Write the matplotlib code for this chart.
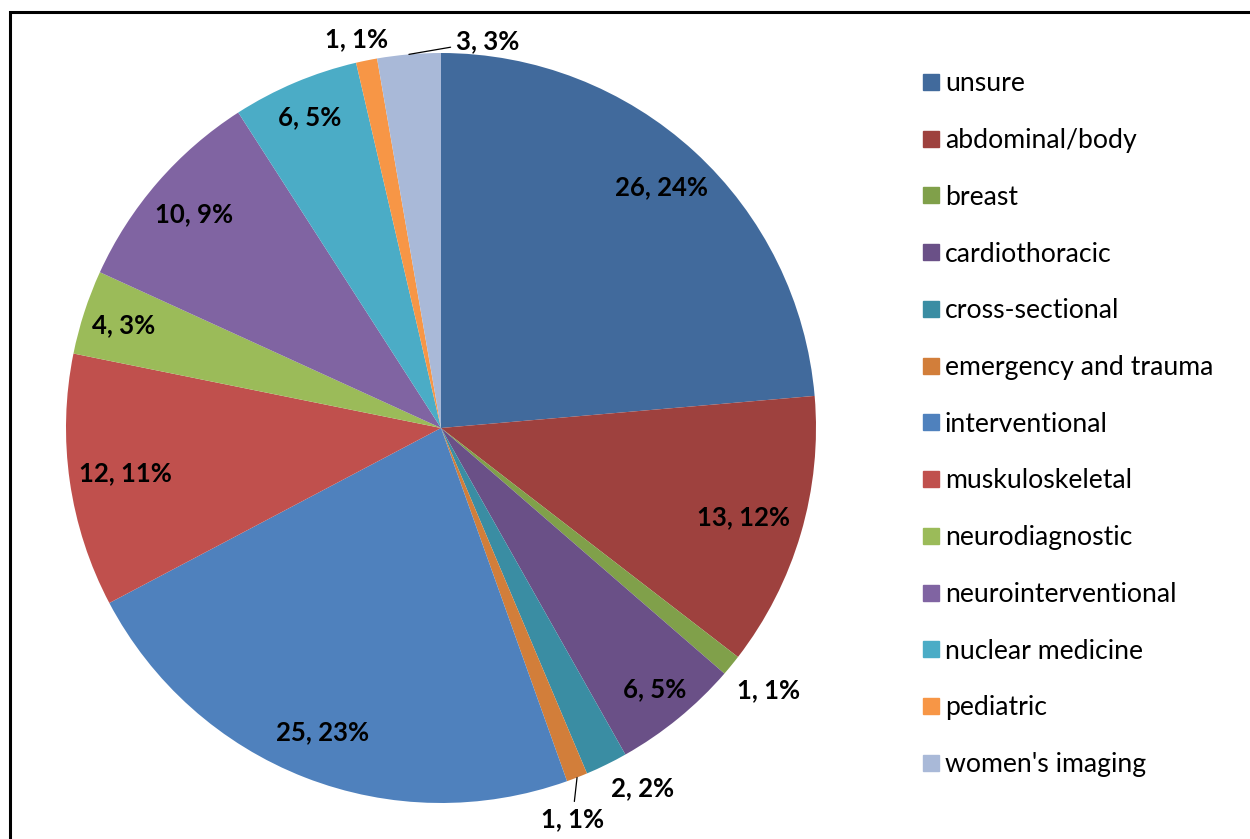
import numpy as np
import matplotlib
matplotlib.use("Agg")
import matplotlib.pyplot as plt
from matplotlib.lines import Line2D
from matplotlib.patches import Rectangle

plt.rcParams["font.family"] = ["Lato", "DejaVu Sans"]

categories = [
    "unsure", "abdominal/body", "breast", "cardiothoracic", "cross-sectional",
    "emergency and trauma", "interventional", "muskuloskeletal",
    "neurodiagnostic", "neurointerventional", "nuclear medicine",
    "pediatric", "women's imaging",
]
counts = [26, 13, 1, 6, 2, 1, 25, 12, 4, 10, 6, 1, 3]
pct_labels = ["24%", "12%", "1%", "5%", "2%", "1%", "23%", "11%",
              "3%", "9%", "5%", "1%", "3%"]

colours = [
    "#416A9C", "#9E413E", "#80A04A", "#6A5087", "#3A8DA3", "#D27E3A",
    "#4F81BD", "#C0504D", "#9BBB59", "#8064A2", "#4BACC6", "#F79646",
    "#A9B9D8",
]

# label placement: radial distance (x radius) and angular nudge (deg, clockwise)
label_r = [0.87, 0.84, 1.12, 0.90, 1.10, 1.10, 0.87, 0.85, 0.89, 0.87, 0.90, 1.06, 1.04]
label_dang = [0, 0, -0.6, 0, -3.0, 2.7, 0, 0, 0, 0, 0, -0.8, 11.8]
leaders = {5, 12}

W, H = 1250, 839
cx, cy, R = 441, 428, 375

fig = plt.figure(figsize=(W / 100, H / 100), dpi=100)
ax = fig.add_axes([(cx - R) / W, (H - cy - R) / H, 2 * R / W, 2 * R / H])

wedges, _ = ax.pie(counts, colors=colours, startangle=90, counterclock=False,
                   radius=1.0, wedgeprops=dict(linewidth=0))
ax.set_xlim(-1, 1)
ax.set_ylim(-1, 1)
ax.set_aspect("equal")
ax.axis("off")

for i, w in enumerate(wedges):
    mid = np.deg2rad((w.theta1 + w.theta2) / 2)
    lab_ang = mid - np.deg2rad(label_dang[i])
    tx, ty = label_r[i] * np.cos(lab_ang), label_r[i] * np.sin(lab_ang)
    text = f"{counts[i]}, {pct_labels[i]}"
    if i in leaders:
        ax.annotate(text, xy=(np.cos(mid), np.sin(mid)), xytext=(tx, ty),
                    ha="center", va="center", fontsize=18.5, fontweight="bold",
                    annotation_clip=False,
                    arrowprops=dict(arrowstyle="-", color="black", lw=0.9,
                                    shrinkA=2, shrinkB=0))
    else:
        ax.text(tx, ty, text, ha="center", va="center", fontsize=18.5,
                fontweight="bold", clip_on=False)

handles = [Line2D([0], [0], marker="s", color="none", markerfacecolor=c,
                  markeredgecolor=c, markersize=11.5, label=l)
           for c, l in zip(colours, categories)]
fig.legend(handles=handles, loc="upper left",
           bbox_to_anchor=(909 / W, 1 - 58 / H), frameon=False,
           fontsize=19.2, labelspacing=1.19, handlelength=0.65,
           handletextpad=0.2, borderpad=0)

fig.patches.append(Rectangle((10 / W, -0.1), 1.2, 1.1 - 12 / H,
                             transform=fig.transFigure, fill=False,
                             edgecolor="black", linewidth=2.2))

fig.savefig("out.png", dpi=100)
